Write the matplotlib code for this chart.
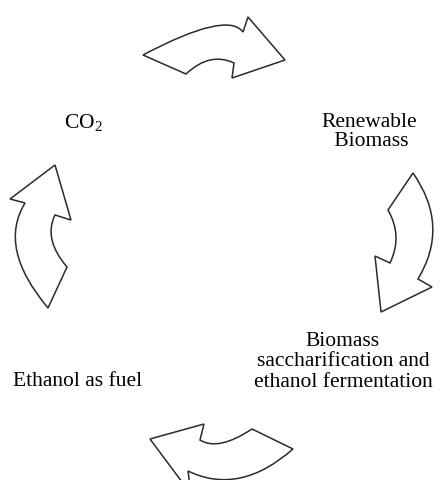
"""Ethanol carbon cycle diagram: four curved arrows around four stage labels."""

import matplotlib
matplotlib.use("Agg")  # headless
import matplotlib.pyplot as plt
from matplotlib.path import Path
from matplotlib.patches import PathPatch

plt.rcParams["font.family"] = ["Liberation Serif", "DejaVu Serif"]
plt.rcParams["mathtext.fontset"] = "custom"
plt.rcParams["mathtext.rm"] = "Liberation Serif"

# cycle stages, clockwise starting at upper left
stages = [
    r"CO$_{\mathregular{2}}$",
    "Renewable\n Biomass",
    "Biomass\nsaccharification and\nethanol fermentation",
    "Ethanol as fuel",
]

# layout (pixels, y down): centre x, first baseline y, line gap
label_pos = [(83, 128), (369, 127), (343, 346), (78, 386)]
label_gap = [0, 19, 20.5, 0]

W, H = 441, 480


def curved_arrow(tail_out, out_ctrl, base_out, barb_out, tip,
                 barb_in, base_in, in_ctrl, tail_in):
    """Block arrow with a curved body (quadratic edges) and triangular head."""
    verts = [tail_out, out_ctrl, base_out, barb_out, tip, barb_in,
             base_in, in_ctrl, tail_in, tail_out]
    codes = [Path.MOVETO, Path.CURVE3, Path.CURVE3, Path.LINETO, Path.LINETO,
             Path.LINETO, Path.LINETO, Path.CURVE3, Path.CURVE3, Path.CLOSEPOLY]
    return Path(verts, codes)


arrows = [
    # top: CO2 -> renewable biomass
    curved_arrow((143, 55), (227, 10.5), (243, 32), (248, 17), (285, 60),
                 (232, 78), (234, 63), (210, 51.5), (186, 74)),
    # right: biomass -> saccharification
    curved_arrow((413, 173), (450, 226), (418, 279), (432, 287), (381, 312),
                 (375, 256), (390, 263), (403, 236), (388, 210)),
    # bottom: fermentation -> ethanol
    curved_arrow((293, 449), (239.5, 496), (188, 471), (191, 494), (150, 439),
                 (204, 424), (200, 440), (218, 451.5), (252, 429)),
    # left: ethanol -> CO2
    curved_arrow((48, 308), (-2.5, 248), (25, 203), (10, 199), (55, 165),
                 (71, 220), (55, 215), (43, 239), (67, 267)),
]

fig = plt.figure(figsize=(W / 100, H / 100), dpi=100)
ax = fig.add_axes([0, 0, 1, 1])
ax.set_xlim(0, W)
ax.set_ylim(H, 0)
ax.axis("off")

for p in arrows:
    ax.add_patch(PathPatch(p, facecolor="white", edgecolor="#2b2b2b",
                           lw=1.1, joinstyle="miter"))

for text, (x, y), gap in zip(stages, label_pos, label_gap):
    for i, line in enumerate(text.split("\n")):
        ax.text(x, y + i * gap, line, ha="center", va="baseline",
                fontsize=15.5, color="black")

fig.savefig("out.png", dpi=100)
